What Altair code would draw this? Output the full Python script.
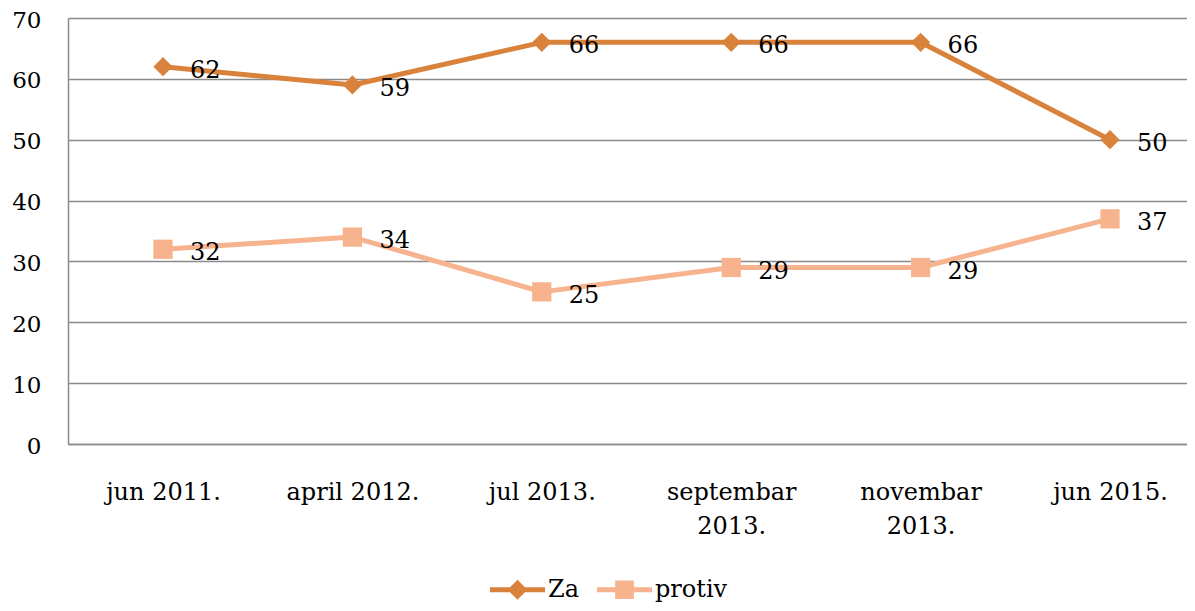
import altair as alt
import pandas as pd

categories = ["jun 2011.", "april 2012.", "jul 2013.", "septembar|2013.", "novembar|2013.", "jun 2015."]
za = [62, 59, 66, 66, 66, 50]
protiv = [32, 34, 25, 29, 29, 37]
series_names = ["Za", "protiv"]
colors = ["#D9823B", "#F7B38D"]
y_ticks = [0, 10, 20, 30, 40, 50, 60, 70]

rows = []
for i, (c, a, b) in enumerate(zip(categories, za, protiv)):
    rows.append({"idx": i, "cat": c, "series": "Za", "value": a})
    rows.append({"idx": i, "cat": c, "series": "protiv", "value": b})
df = pd.DataFrame(rows)

FONT = "DejaVu Serif"

label_map = "[" + ",".join("'" + c + "'" for c in categories) + "]"

x_enc = alt.X(
    "idx:Q",
    scale=alt.Scale(domain=[-0.5016, 5.4065], nice=False, zero=False),
    axis=alt.Axis(
        title=None,
        values=list(range(len(categories))),
        labelExpr="split(" + label_map + "[datum.value], '|')",
        labelFont=FONT,
        labelFontSize=24,
        labelColor="#000000",
        labelPadding=36,
        labelLineHeight=34,
        labelBaseline="top",
        labelFlush=False,
        labelOverlap=False,
        ticks=False,
        domain=True,
        domainColor="#8a8a8a",
        domainWidth=1.5,
        grid=False,
        labelAngle=0,
    ),
)
y_enc = alt.Y(
    "value:Q",
    scale=alt.Scale(domain=[0, 70], nice=False, zero=True),
    axis=alt.Axis(
        title=None,
        values=y_ticks,
        labelFont=FONT,
        labelFontSize=23,
        labelColor="#000000",
        labelPadding=27,
        labelOffset=2,
        ticks=False,
        domain=True,
        domainColor="#8a8a8a",
        domainWidth=1.5,
        grid=True,
        gridColor="#8a8a8a",
        gridWidth=1.3,
    ),
)

base = alt.Chart(df)

shapes = ["diamond", "square"]
layers = []
for name, col in zip(series_names, colors):
    sub = base.transform_filter(alt.datum.series == name)
    layers.append(
        sub.mark_line(color=col, strokeWidth=5, strokeJoin="round", strokeCap="round").encode(x=x_enc, y=y_enc)
    )
for name, col, shp in zip(series_names, colors, shapes):
    sub = base.transform_filter(alt.datum.series == name)
    layers.append(
        sub.mark_point(shape=shp, filled=True, size=370, color=col, opacity=1).encode(x=x_enc, y=y_enc)
    )
for name in series_names:
    sub = base.transform_filter(alt.datum.series == name)
    layers.append(
        sub.mark_text(align="left", baseline="middle", dx=27, dy=4, font=FONT, fontSize=24, color="#000000").encode(
            x=x_enc, y=y_enc, text=alt.Text("value:Q")
        )
    )

legend_paths = [
    "M-1,-0.09H1V0.09H-1Z M-0.36,0L0,-0.36L0.36,0L0,0.36Z",
    "M-1,-0.09H1V0.09H-1Z M-0.34,-0.34H0.34V0.34H-0.34Z",
]
leg = dict(
    title=None,
    orient="none",
    legendX=422,
    legendY=544,
    direction="horizontal",
    labelFont=FONT,
    labelFontSize=24,
    labelColor="#000000",
    labelOffset=3,
    columnPadding=18,
    symbolSize=3025,
    symbolStrokeWidth=0,
    symbolOpacity=1,
)
legend_layer = base.transform_filter("false").mark_point(filled=True, size=3025).encode(
    x=x_enc,
    y=y_enc,
    color=alt.Color(
        "series:N",
        scale=alt.Scale(domain=series_names, range=colors),
        legend=alt.Legend(**leg),
    ),
    shape=alt.Shape(
        "series:N",
        scale=alt.Scale(domain=series_names, range=legend_paths),
        legend=alt.Legend(**leg),
    ),
)

chart = alt.layer(legend_layer, *layers).properties(
    width=1119,
    height=426,
    autosize=alt.AutoSizeParams(type="none"),
    padding={"left": 60, "top": 10, "right": 0, "bottom": 159},
).configure_view(stroke=None).configure(background="#ffffff")

chart.save("out.html", embed_options={"renderer": "svg", "actions": False})
